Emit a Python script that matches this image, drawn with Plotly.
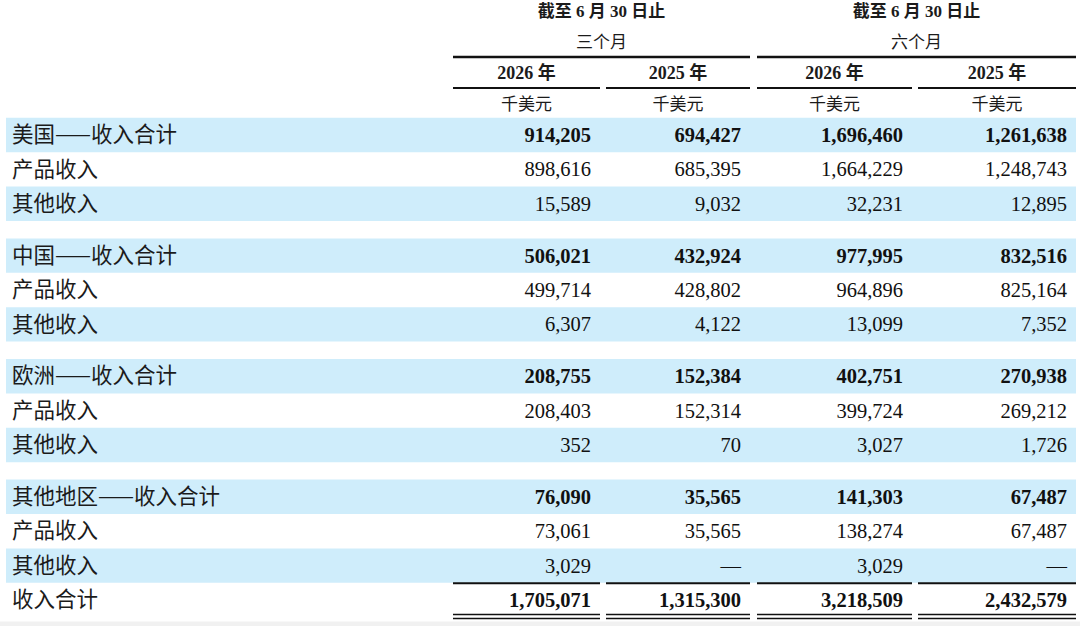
import plotly.graph_objects as go

# ---------------- data ----------------
period_titles = ["截至 6 月 30 日止", "截至 6 月 30 日止"]
period_names = ["三个月", "六个月"]
year_labels = ["2026 年", "2025 年", "2026 年", "2025 年"]
unit_labels = ["千美元", "千美元", "千美元", "千美元"]

region_labels = ["美国——收入合计", "中国——收入合计", "欧洲——收入合计", "其他地区——收入合计"]
sub_labels = ["产品收入", "其他收入"]
grand_label = "收入合计"

us_total = [914205, 694427, 1696460, 1261638]
us_product = [898616, 685395, 1664229, 1248743]
us_other = [15589, 9032, 32231, 12895]
cn_total = [506021, 432924, 977995, 832516]
cn_product = [499714, 428802, 964896, 825164]
cn_other = [6307, 4122, 13099, 7352]
eu_total = [208755, 152384, 402751, 270938]
eu_product = [208403, 152314, 399724, 269212]
eu_other = [352, 70, 3027, 1726]
rw_total = [76090, 35565, 141303, 67487]
rw_product = [73061, 35565, 138274, 67487]
rw_other = [3029, None, 3029, None]
grand_total = [1705071, 1315300, 3218509, 2432579]

groups = [
    (us_total, us_product, us_other),
    (cn_total, cn_product, cn_other),
    (eu_total, eu_product, eu_other),
    (rw_total, rw_product, rw_other),
]

# ---------------- layout constants ----------------
W, H = 1080, 626
col_left = [453, 606, 757, 918]
col_right = [600, 750, 912, 1076]
num_pad = 9
label_x = 12
band_x0, band_x1 = 6, 1076
first_y = 135.0
row_h = 34.4
group_gap = 17.4
text_dy = 1.8
band_color = "#cfedfb"
txt_color = "#1b1b1b"
serif = "Liberation Serif, Noto Sans CJK SC, serif"
cjk = "Noto Sans CJK SC, sans-serif"


def fmt(v):
    return "—" if v is None else f"{v:,}"


def row_y(g, r):
    return first_y + g * (3 * row_h + group_gap) + r * row_h


shapes = []
lab_x, lab_y, lab_t = [], [], []
bn_x, bn_y, bn_t = [], [], []
rn_x, rn_y, rn_t = [], [], []

for g, (tot, prod, oth) in enumerate(groups):
    rows = [(region_labels[g], tot, True), (sub_labels[0], prod, False), (sub_labels[1], oth, False)]
    for r, (lab, vals, bold) in enumerate(rows):
        y = row_y(g, r)
        if r != 1:
            shapes.append(dict(type="rect", xref="x", yref="y", x0=band_x0, x1=band_x1,
                               y0=y - row_h / 2, y1=y + row_h / 2,
                               fillcolor=band_color, line=dict(width=0), layer="below"))
        lab_x.append(label_x); lab_y.append(y + text_dy); lab_t.append(lab)
        for c, v in enumerate(vals):
            if bold:
                bn_x.append(col_right[c] - num_pad); bn_y.append(y + text_dy); bn_t.append(f"<b>{fmt(v)}</b>")
            else:
                rn_x.append(col_right[c] - num_pad); rn_y.append(y + text_dy); rn_t.append(fmt(v))

gy = row_y(3, 2) + row_h
lab_x.append(label_x); lab_y.append(gy + text_dy); lab_t.append(grand_label)
for c, v in enumerate(grand_total):
    bn_x.append(col_right[c] - num_pad); bn_y.append(gy + text_dy); bn_t.append(f"<b>{fmt(v)}</b>")

# lines around grand total
line_above = row_y(3, 2) + row_h / 2 + 0.5
for c in range(4):
    shapes.append(dict(type="line", xref="x", yref="y", x0=col_left[c], x1=col_right[c],
                       y0=line_above, y1=line_above, line=dict(color="#111", width=2)))
    for dy in (14.5, 18.5):
        shapes.append(dict(type="line", xref="x", yref="y", x0=col_left[c], x1=col_right[c],
                           y0=gy + dy, y1=gy + dy, line=dict(color="#111", width=1.6)))

# header lines
head_line_y = 57
year_line_y = 88
for p in range(2):
    shapes.append(dict(type="line", xref="x", yref="y", x0=col_left[2 * p], x1=col_right[2 * p + 1],
                       y0=head_line_y, y1=head_line_y, line=dict(color="#111", width=2.6)))
for c in range(4):
    shapes.append(dict(type="line", xref="x", yref="y", x0=col_left[c], x1=col_right[c],
                       y0=year_line_y, y1=year_line_y, line=dict(color="#111", width=2.2)))

# faint bottom strip
shapes.append(dict(type="rect", xref="x", yref="y", x0=0, x1=W, y0=621.5, y1=H,
                   fillcolor="#f1f1f1", line=dict(width=0), layer="below"))

# header texts
ph_x = [(col_left[2 * p] + col_right[2 * p + 1]) / 2 for p in range(2)]
col_c = [(col_left[c] + col_right[c]) / 2 for c in range(4)]

fig = go.Figure()
fig.add_trace(go.Scatter(x=ph_x, y=[13, 13], mode="text", text=[f"<b>{t}</b>" for t in period_titles],
                         textposition="middle center",
                         textfont=dict(family=serif, size=17, color=txt_color), hoverinfo="skip"))
fig.add_trace(go.Scatter(x=ph_x, y=[44, 44], mode="text", text=period_names,
                         textposition="middle center",
                         textfont=dict(family=cjk, size=17, color=txt_color), hoverinfo="skip"))
fig.add_trace(go.Scatter(x=col_c, y=[74.5] * 4, mode="text", text=[f"<b>{t}</b>" for t in year_labels],
                         textposition="middle center",
                         textfont=dict(family=serif, size=18, color=txt_color), hoverinfo="skip"))
fig.add_trace(go.Scatter(x=col_c, y=[106] * 4, mode="text", text=unit_labels,
                         textposition="middle center",
                         textfont=dict(family=cjk, size=17, color=txt_color), hoverinfo="skip"))
fig.add_trace(go.Scatter(x=lab_x, y=lab_y, mode="text", text=lab_t, textposition="middle right",
                         textfont=dict(family=cjk, size=21.5, color=txt_color), hoverinfo="skip"))
fig.add_trace(go.Scatter(x=bn_x, y=bn_y, mode="text", text=bn_t, textposition="middle left",
                         textfont=dict(family=serif, size=20.5, color="#111"), hoverinfo="skip"))
fig.add_trace(go.Scatter(x=rn_x, y=rn_y, mode="text", text=rn_t, textposition="middle left",
                         textfont=dict(family=serif, size=20.5, color="#111"), hoverinfo="skip"))

fig.update_layout(
    width=W, height=H, margin=dict(l=0, r=0, t=0, b=0),
    paper_bgcolor="white", plot_bgcolor="white", showlegend=False,
    xaxis=dict(range=[0, W], visible=False, fixedrange=True),
    yaxis=dict(range=[H, 0], visible=False, fixedrange=True),
    shapes=shapes,
)
fig.write_html("out.html", config={"displayModeBar": False},
               post_script="document.body.style.margin='0';document.body.style.overflow='hidden';")
